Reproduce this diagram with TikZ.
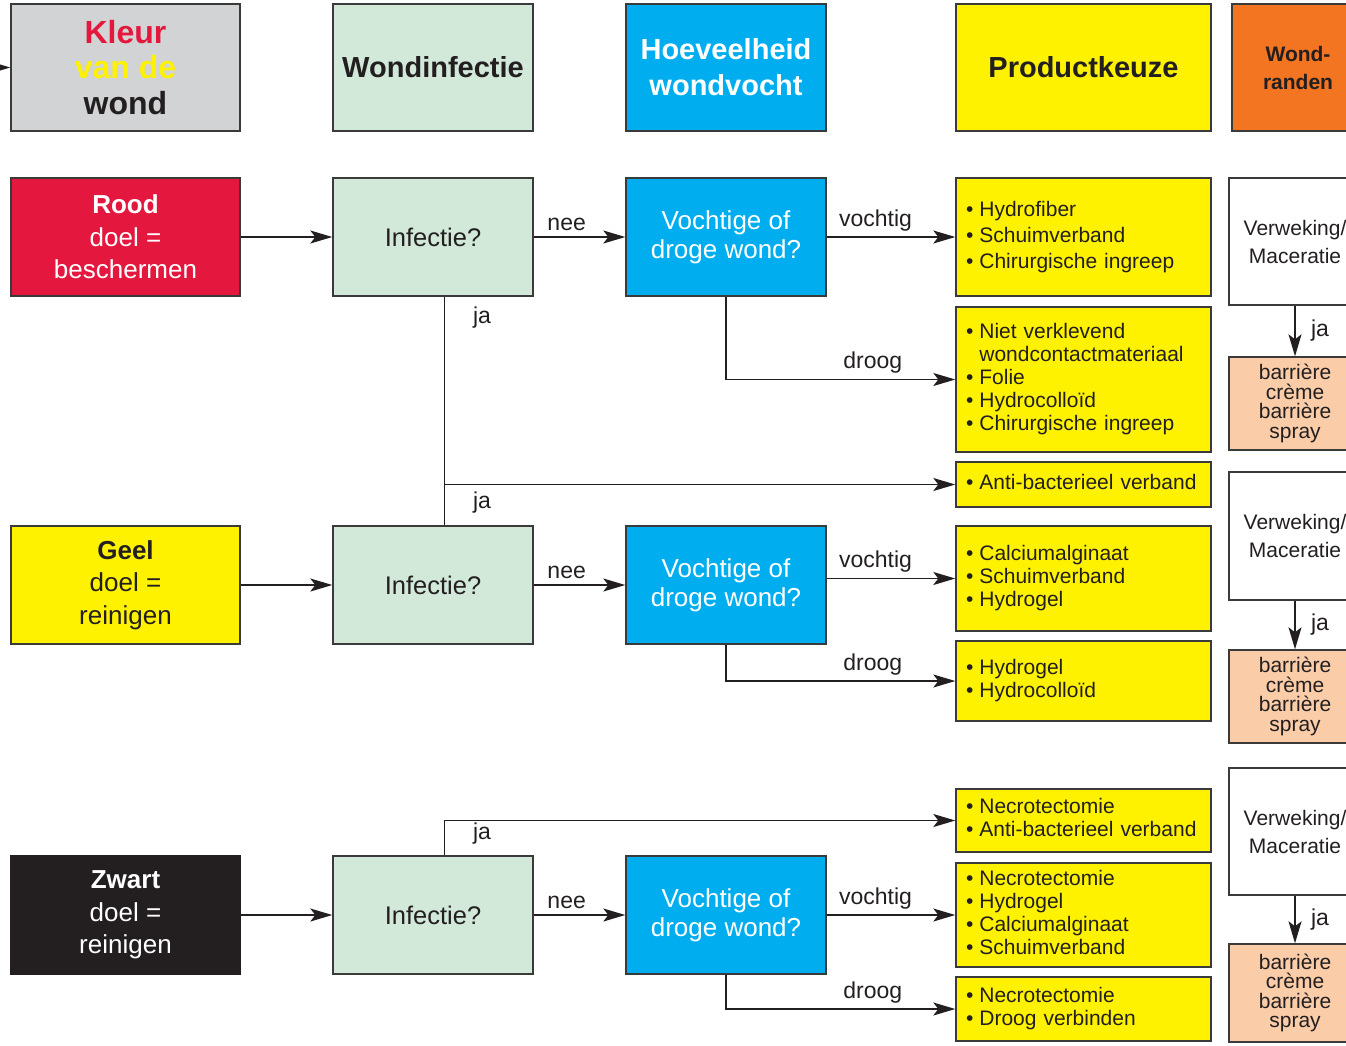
\documentclass[tikz,border=0pt]{standalone}
\usepackage{fontspec}
\setmainfont{Liberation Sans}
\usepackage{tikz}
\usetikzlibrary{arrows.meta}
\definecolor{kgrey}{HTML}{D1D3D4}
\definecolor{kmint}{HTML}{D2E9DA}
\definecolor{kcyan}{HTML}{00AEEF}
\definecolor{kyel}{HTML}{FFF200}
\definecolor{kora}{HTML}{F37421}
\definecolor{kred}{HTML}{E4173E}
\definecolor{kblk}{HTML}{231F20}
\definecolor{kpeach}{HTML}{FACDA8}
\definecolor{kline}{HTML}{3A3A3A}
\newcommand{\fs}[2]{\fontsize{#1}{#2}\selectfont}

\begin{document}
\begin{tikzpicture}[x=1pt,y=-1pt,
	box/.style={draw=kline,line width=1.4pt,inner sep=0pt,align=center,text=kblk},
	head/.style={box,minimum height=127pt,font=\bfseries\fs{29}{36}},
	kleurbox/.style={box,minimum width=229pt,minimum height=118pt,font=\fs{26}{32.5}},
	infbox/.style={box,fill=kmint,minimum width=200pt,minimum height=118pt,font=\fs{25.5}{30}},
	vochtbox/.style={box,fill=kcyan,text=white,minimum width=200pt,minimum height=118pt,font=\fs{26}{29}},
	prodbox/.style={box,fill=kyel,minimum width=255pt,text width=235pt,inner xsep=10pt,align=left,font=\fs{21}{23}},
	randbox/.style={box,fill=white,minimum width=132pt,minimum height=127pt,font=\fs{21}{28}},
	barbox/.style={box,fill=kpeach,minimum width=132pt,font=\fs{21}{19.5}},
	lbl/.style={text=kblk,font=\fs{23}{26}},
	up/.style={lbl,above,yshift=2pt},
	con/.style={draw=kblk,line width=1.3pt},
	arr/.style={con,-{Stealth[length=22pt,width=13pt,inset=5pt]}}]
	\useasboundingbox (0,0) rectangle (1346,1045);
	\clip (0,0) rectangle (1346,1045);
	%%%%% HEADERS %%%%%
	\node[head,fill=kgrey,minimum width=229pt,font=\bfseries\fs{32}{35.5}] (kleur) at (125.5,67.5) {\textcolor{kred}{Kleur}\\\textcolor{kyel}{van de}\\wond};
	\node[head,fill=kmint,minimum width=200pt] (hinf) at (433,67.5) {Wondinfectie};
	\node[head,fill=kcyan,text=white,minimum width=200pt] (hvocht) at (726,67.5) {Hoeveelheid\\wondvocht};
	\node[head,fill=kyel,minimum width=255pt] (hprod) at (1083.5,67.5) {Productkeuze};
	\node[head,fill=kora,minimum width=132pt,font=\bfseries\fs{21}{28}] (hrand) at (1298,67.5) {Wond-\\randen};
	\coordinate (kin) at (-40,67.5);
	\draw[arr] (kin) -- (kleur);
	
	%%%%% ROOD %%%%%
	\node[kleurbox,fill=kred,text=white] (rood) at (125.5,237) {{\bfseries Rood}\\doel =\\beschermen};
	\node[infbox] (inf1) at (433,237) {Infectie?};
	\node[vochtbox] (vw1) at (726,237) {Vochtige of\\droge wond?};
	\node[prodbox,minimum height=118pt,font=\fs{21}{26}] (p1) at (1083.5,237) {\begin{tabular}{@{}l@{\hspace{6pt}}l@{}}
		\textbullet & Hydrofiber\\
		\textbullet & Schuimverband\\
		\textbullet & Chirurgische ingreep
	\end{tabular}};
	\node[prodbox,minimum height=145pt] (p2) at (1083.5,379.5) {\begin{tabular}{@{}l@{\hspace{6pt}}l@{}}
		\textbullet & Niet verklevend\\
		& wondcontactmateriaal\\
		\textbullet & Folie\\
		\textbullet & Hydrocolloïd\\
		\textbullet & Chirurgische ingreep
	\end{tabular}};
	\node[prodbox,minimum height=45pt] (a1) at (1083.5,484.5) {\begin{tabular}{@{}l@{\hspace{6pt}}l@{}}
		\textbullet & Anti-bacterieel verband
	\end{tabular}};
	\draw[arr] (rood) -- (inf1);
	\draw[arr] (inf1) -- node[up,pos=0.36] (nee1) {nee} (vw1);
	\draw[arr] (vw1) -- node[up,pos=0.38] (voc1) {vochtig} (p1);
	\draw[arr] (vw1) |- node[up,pos=0.82] (dro1) {droog} (p2);
	
	%%%%% GEEL %%%%%
	\node[kleurbox,fill=kyel] (geel) at (125.5,585) {{\bfseries Geel}\\doel =\\reinigen};
	\node[infbox] (inf2) at (433,585) {Infectie?};
	\node[vochtbox] (vw2) at (726,585) {Vochtige of\\droge wond?};
	\node[prodbox,minimum height=105pt] (p3) at (1083.5,578.5) {\begin{tabular}{@{}l@{\hspace{6pt}}l@{}}
		\textbullet & Calciumalginaat\\
		\textbullet & Schuimverband\\
		\textbullet & Hydrogel
	\end{tabular}};
	\node[prodbox,minimum height=80pt] (p4) at (1083.5,681) {\begin{tabular}{@{}l@{\hspace{6pt}}l@{}}
		\textbullet & Hydrogel\\
		\textbullet & Hydrocolloïd
	\end{tabular}};
	\draw[arr] (geel) -- (inf2);
	\draw[arr] (inf2) -- node[up,pos=0.36] (nee2) {nee} (vw2);
	\draw[arr] (vw2.east |- p3.west) -- node[up,pos=0.38] (voc2) {vochtig} (p3.west);
	\draw[arr] (vw2) |- node[up,pos=0.82] (dro2) {droog} (p4);
	
	% infectie ja
	\draw[con] ([xshift=11.5pt]inf1.south) -- ([xshift=11.5pt]inf2.north);
	\coordinate (j1) at ([xshift=11.5pt]inf1.south |- a1.west);
	\draw[arr] (j1) -- (a1.west);
	\node[lbl] (ja1) at (482,318) {ja};
	\node[lbl] (ja2) at (482,503) {ja};
	
	%%%%% ZWART %%%%%
	\node[kleurbox,fill=kblk,draw=kblk,text=white] (zwart) at (125.5,915) {{\bfseries Zwart}\\doel =\\reinigen};
	\node[infbox] (inf3) at (433,915) {Infectie?};
	\node[vochtbox] (vw3) at (726,915) {Vochtige of\\droge wond?};
	\node[prodbox,minimum height=63pt] (p5) at (1083.5,820.5) {\begin{tabular}{@{}l@{\hspace{6pt}}l@{}}
		\textbullet & Necrotectomie\\
		\textbullet & Anti-bacterieel verband
	\end{tabular}};
	\node[prodbox,minimum height=104pt] (p6) at (1083.5,915) {\begin{tabular}{@{}l@{\hspace{6pt}}l@{}}
		\textbullet & Necrotectomie\\
		\textbullet & Hydrogel\\
		\textbullet & Calciumalginaat\\
		\textbullet & Schuimverband
	\end{tabular}};
	\node[prodbox,minimum height=64pt] (p7) at (1083.5,1009) {\begin{tabular}{@{}l@{\hspace{6pt}}l@{}}
		\textbullet & Necrotectomie\\
		\textbullet & Droog verbinden
	\end{tabular}};
	\draw[arr] (zwart) -- (inf3);
	\draw[arr] (inf3) -- node[up,pos=0.36] (nee3) {nee} (vw3);
	\draw[arr] (vw3) -- node[up,pos=0.38] (voc3) {vochtig} (p6);
	\draw[arr] (vw3) |- node[up,pos=0.82] (dro3) {droog} (p7);
	\draw[arr] ([xshift=11.5pt]inf3.north) |- (p5.west);
	\node[lbl] (ja3) at (482,834) {ja};
	
	%%%%% WONDRANDEN %%%%%
	\node[randbox] (w1) at (1295,241.5) {Verweking/\\Maceratie};
	\node[barbox,minimum height=93pt] (b1) at (1295,403.5) {barrière\\crème\\barrière\\spray};
	\node[randbox,minimum height=128pt] (w2) at (1295,536) {Verweking/\\Maceratie};
	\node[barbox,minimum height=93pt] (b2) at (1295,696.5) {barrière\\crème\\barrière\\spray};
	\node[randbox] (w3) at (1295,831.5) {Verweking/\\Maceratie};
	\node[barbox,minimum height=98pt] (b3) at (1295,993) {barrière\\crème\\barrière\\spray};
	\draw[arr] (w1) -- node[lbl,right,xshift=12pt] (jw1) {ja} (b1);
	\draw[arr] (w2) -- node[lbl,right,xshift=12pt] (jw2) {ja} (b2);
	\draw[arr] (w3) -- node[lbl,right,xshift=12pt] (jw3) {ja} (b3);
\end{tikzpicture}
\end{document}
